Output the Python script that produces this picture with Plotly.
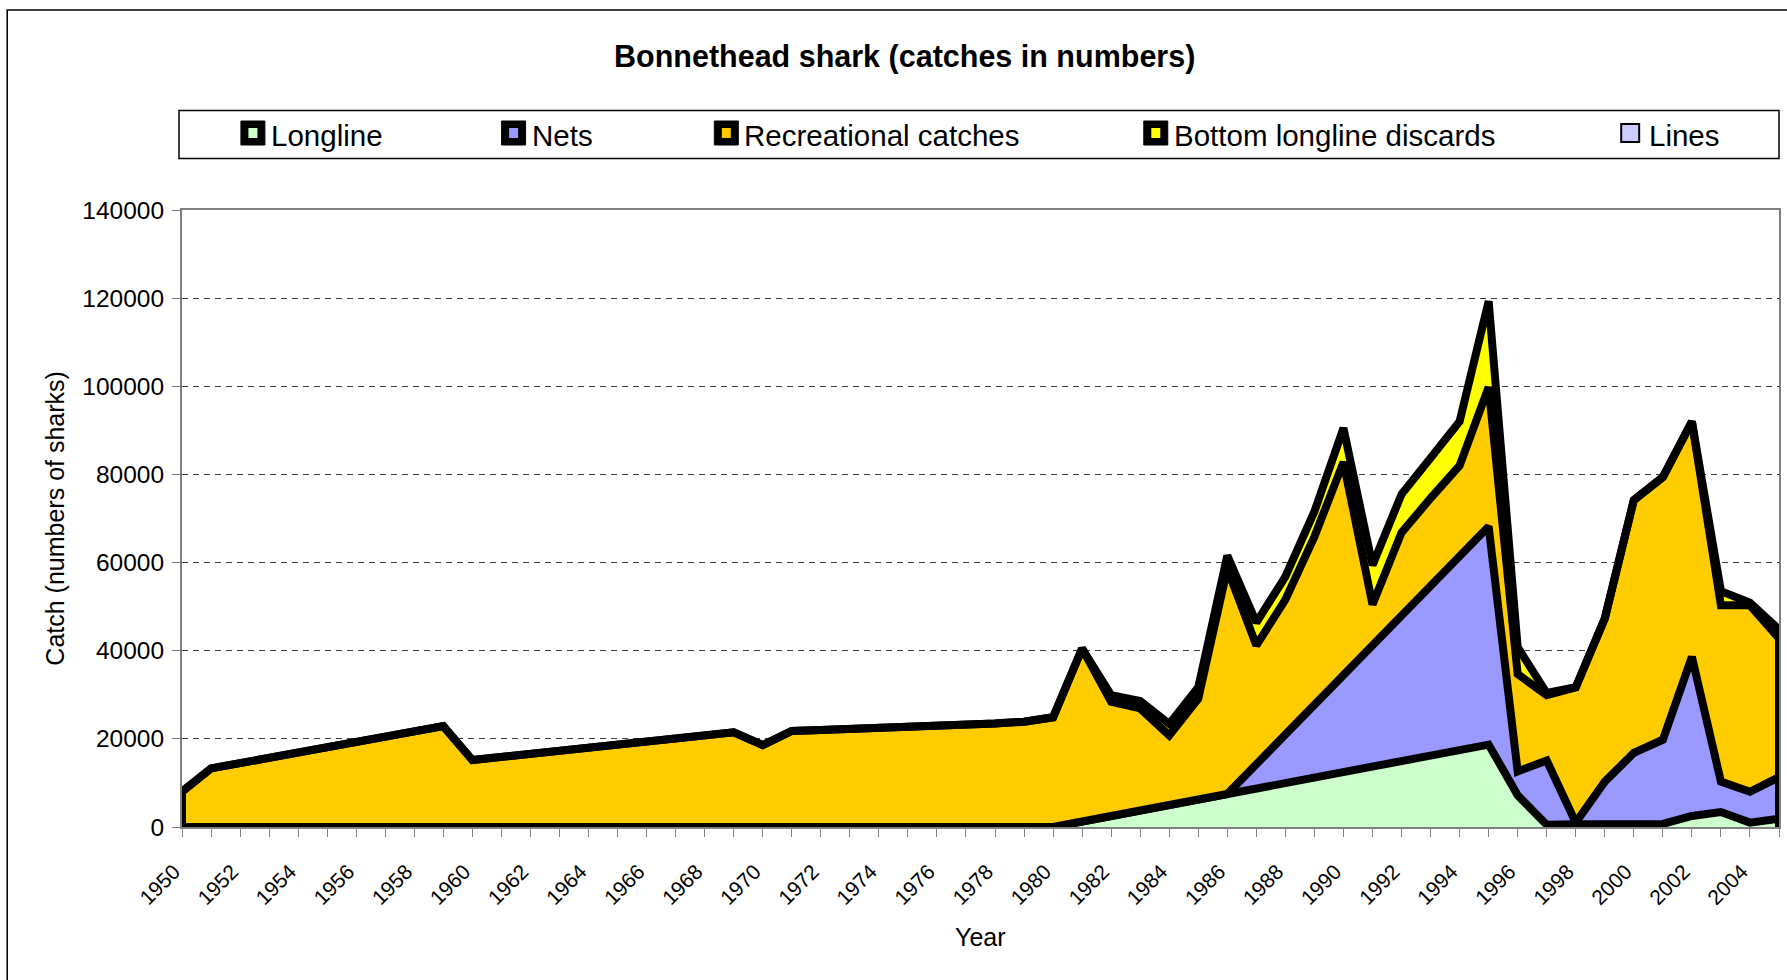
import numpy as np
import plotly.graph_objects as go

# ---- data -------------------------------------------------------------
years = list(range(1950, 2006))

longline = [
    0, 0, 0, 0, 0, 0, 0, 0, 0, 0,                      # 1950-1959
    0, 0, 0, 0, 0, 0, 0, 0, 0, 0,                      # 1960-1969
    0, 0, 0, 0, 0, 0, 0, 0, 0, 0,                      # 1970-1979
    0, 1250, 2500, 3750, 5000, 6250, 7500, 8750, 10000, 11250,   # 1980-1989
    12500, 13750, 15000, 16250, 17500, 18700, 7200, 500, 600, 600,  # 1990-1999
    700, 700, 2500, 3400, 1000, 1900,                  # 2000-2005
]

nets = [
    0, 0, 0, 0, 0, 0, 0, 0, 0, 0,
    0, 0, 0, 0, 0, 0, 0, 0, 0, 0,
    0, 0, 0, 0, 0, 0, 0, 0, 0, 0,
    0, 0, 0, 0, 0, 0, 0, 5500, 11000, 16500,
    22000, 27500, 33000, 38500, 44000, 49500, 5400, 14600, 400, 9700,
    16100, 19100, 36100, 6900, 7000, 9400,
]

recreational = [
    8000, 13300, 14500, 15700, 16900, 18100, 19300, 20500, 21700, 22900,
    15200, 15900, 16600, 17300, 18000, 18700, 19400, 20100, 20800, 21500,
    18600, 21800, 22000, 22200, 22500, 22700, 23000, 23200, 23500, 23900,
    24900, 39250, 25900, 23150, 15800, 22850, 51100, 26950, 30600, 38150,
    48300, 9250, 18800, 19850, 20500, 31600, 22100, 14800, 30700, 37000,
    57400, 59600, 53400, 40000, 42300, 31500,
]

discards = [
    0, 0, 0, 0, 0, 0, 0, 0, 0, 0,
    0, 0, 0, 0, 0, 0, 0, 0, 0, 0,
    0, 0, 0, 0, 0, 0, 0, 0, 0, 0,
    0, 0, 1500, 1700, 2600, 2600, 3000, 5200, 5200, 5700,
    7700, 8900, 8700, 9100, 10000, 19500, 6100, 500, 0, 0,
    0, 0, 0, 3200, 600, 2000,
]

lines_catch = [
    0, 0, 0, 0, 0, 0, 0, 0, 0, 0,
    0, 0, 0, 0, 0, 0, 0, 0, 0, 0,
    0, 0, 0, 0, 0, 0, 0, 0, 0, 0,
    0, 0, 0, 0, 0, 0, 0, 0, 0, 0,
    0, 0, 0, 0, 0, 0, 0, 0, 0, 0,
    0, 0, 0, 0, 0, 0,
]

series_names = ["Longline", "Nets", "Recreational catches",
                "Bottom longline discards", "Lines"]
series_values = [longline, nets, recreational, discards, lines_catch]
series_colors = ["#CCFFCC", "#9999FF", "#FFCC00", "#FFFF00", "#CCCCFF"]

y_ticks = [0, 20000, 40000, 60000, 80000, 100000, 120000, 140000]

# ---- layout geometry ---------------------------------------------------
W, H = 1787, 980
ML, MR, MT, MB = 182, 6, 210, 153
PW, PH = W - ML - MR, H - MT - MB
FONT = "Liberation Sans, Arial, sans-serif"


def px_x(px):
    return (px - ML) / PW


def px_y(py):
    return (H - MB - py) / PH


fig = go.Figure()

# stacked areas, thick black outlines
for name, vals, col in zip(series_names, series_values, series_colors):
    is_lines = name == "Lines"
    fig.add_trace(go.Scatter(
        x=years, y=vals, name=name, stackgroup="catch", mode="lines",
        line=dict(color="black", width=1 if is_lines else 8),
        fillcolor=col, showlegend=False, hoverinfo="skip",
    ))

# closing edges of the stacked area at the first and last year
totals = np.sum(np.array(series_values), axis=0)
for idx in (0, -1):
    fig.add_trace(go.Scatter(
        x=[years[idx], years[idx]], y=[0, float(totals[idx])], mode="lines",
        line=dict(color="black", width=8), showlegend=False, hoverinfo="skip",
    ))

axis_grey = "#808080"
fig.update_xaxes(
    range=[years[0], years[-1]], tickmode="linear", tick0=1950, dtick=2,
    ticks="outside", ticklen=8, tickcolor=axis_grey, tickwidth=1,
    tickangle=-45, tickfont=dict(family=FONT, size=21, color="black"),
    ticklabelshift=-8, ticklabelstandoff=14,
    minor=dict(dtick=1, ticks="outside", ticklen=8, tickcolor=axis_grey,
               tickwidth=1, showgrid=False),
    showline=True, linecolor=axis_grey, linewidth=2, mirror=True,
    showgrid=False, zeroline=False,
)
fig.update_yaxes(
    range=[0, 140000], tickmode="array", tickvals=y_ticks,
    ticktext=[str(v) for v in y_ticks],
    ticks="outside", ticklen=8, tickcolor=axis_grey, tickwidth=1,
    tickfont=dict(family=FONT, size=24.5, color="black"), ticklabelstandoff=3,
    showline=True, linecolor=axis_grey, linewidth=2, mirror=True,
    showgrid=True, gridcolor="#404040", gridwidth=1, griddash="6px,5px",
    zeroline=False,
)

annotations = [
    dict(text="<b>Bonnethead shark (catches in numbers)</b>",
         x=px_x(905), y=px_y(56), xanchor="center", yanchor="middle",
         font=dict(family=FONT, size=30.5, color="black")),
    dict(text="Catch (numbers of sharks)", x=px_x(54), y=0.5, textangle=-90,
         xanchor="center", yanchor="middle",
         font=dict(family=FONT, size=25, color="black")),
    dict(text="Year", x=0.5, y=px_y(937), xanchor="center", yanchor="middle",
         font=dict(family=FONT, size=25, color="black")),
]

shapes = [
    # chart frame
    dict(type="rect", xref="paper", yref="paper",
         x0=px_x(7), x1=px_x(1820), y0=px_y(1000), y1=px_y(10),
         line=dict(color="black", width=1.5), fillcolor="rgba(0,0,0,0)",
         layer="below"),
    # legend frame
    dict(type="rect", xref="paper", yref="paper",
         x0=px_x(179), x1=px_x(1781), y0=px_y(158.5), y1=px_y(110.5),
         line=dict(color="black", width=1.5), fillcolor="white"),
]

# legend keys and labels
legend_key_left = [241, 502, 715, 1145, 1623]
key_cy = 133
for name, col, kx in zip(series_names, series_colors, legend_key_left):
    if name == "Lines":
        shapes.append(dict(type="rect", xref="paper", yref="paper",
                           x0=px_x(kx), x1=px_x(kx + 18),
                           y0=px_y(key_cy + 9), y1=px_y(key_cy - 9),
                           line=dict(color="black", width=2), fillcolor=col))
        tx = kx + 26
    else:
        shapes.append(dict(type="rect", xref="paper", yref="paper",
                           x0=px_x(kx), x1=px_x(kx + 24),
                           y0=px_y(key_cy + 12), y1=px_y(key_cy - 12),
                           line=dict(color="black", width=1), fillcolor="black"))
        shapes.append(dict(type="rect", xref="paper", yref="paper",
                           x0=px_x(kx + 7.5), x1=px_x(kx + 16.5),
                           y0=px_y(key_cy + 5), y1=px_y(key_cy - 5),
                           line=dict(width=0), fillcolor=col))
        tx = kx + 28
    annotations.append(dict(text=name, x=px_x(tx), y=px_y(key_cy + 2.5),
                            xanchor="left", yanchor="middle",
                            font=dict(family=FONT, size=29.5, color="black")))

for a in annotations:
    a.update(xref="paper", yref="paper", showarrow=False)

fig.update_layout(
    width=W, height=H, autosize=False,
    margin=dict(l=ML, r=MR, t=MT, b=MB, pad=0),
    paper_bgcolor="white", plot_bgcolor="white",
    showlegend=False, annotations=annotations, shapes=shapes,
    font=dict(family=FONT, color="black"),
)

fig.write_html("out.html")
